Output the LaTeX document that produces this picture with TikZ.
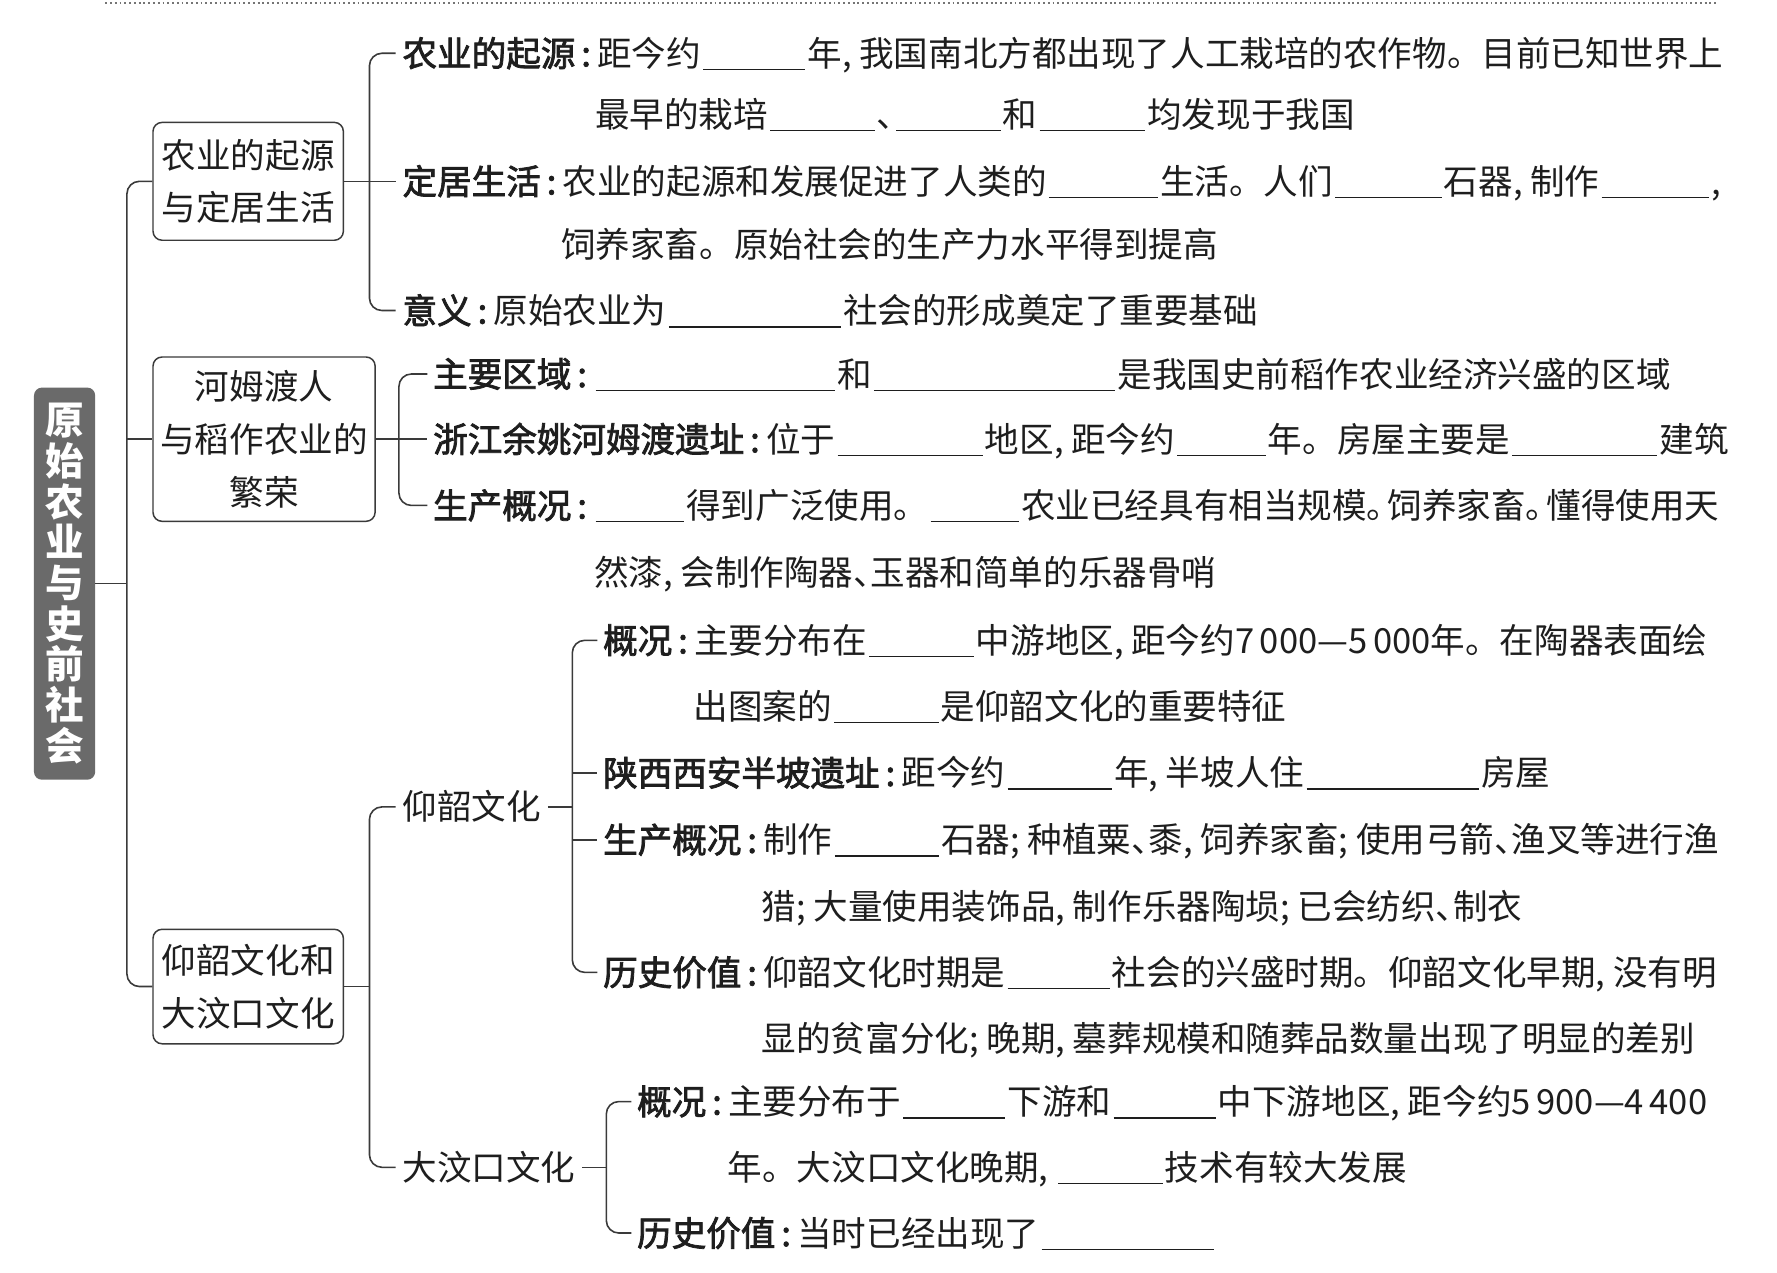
\documentclass[tikz,border=0pt]{standalone}
\usepackage{fontspec}
\setmainfont{Noto Sans CJK SC}
\newfontfamily\labfont{Noto Sans CJK SC}[FakeBold=2.2]
\definecolor{ln}{HTML}{3A3A3A}
\definecolor{tx}{HTML}{1E1E1E}
\definecolor{ttlc}{HTML}{6A6A6A}
\newcommand{\hc}{\makebox[0.5em][l]{,}}
\newcommand{\hsc}{\makebox[0.5em][l]{;}}
\newcommand{\dn}{\makebox[0.5em][l]{、}}
\newcommand{\jh}{\makebox[0.6em][l]{。}}
\newcommand{\blank}[1]{\hspace{2pt}\rule[-3.5pt]{#1pt}{1.3pt}\hspace{2pt}}
\newcommand{\cln}{\makebox[19pt][c]{:}}
\newcommand{\nsp}{\hspace{5pt}}
\begin{document}
\begin{tikzpicture}[x=1pt,y=-1pt,
  conn/.style={draw=ln, line width=1.4pt, rounded corners=11pt},
  box/.style={draw=ln, line width=1.3pt, rounded corners=8pt, align=center, inner sep=0pt, text=tx, font=\fontsize{30.5}{46.5}\selectfont},
  ttlbox/.style={fill=ttlc, rounded corners=7pt, minimum width=54pt, minimum height=346pt, inner sep=0pt, text=white, align=center, font=\bfseries\fontsize{34}{35.9}\selectfont},
  lab/.style={anchor=west, inner sep=0pt, text height=26pt, text depth=3pt, text=tx, font=\labfont\fontsize{30.5}{36}\selectfont},
  txt/.style={anchor=base west, inner sep=0pt, text=tx, font=\fontsize{30.5}{36}\selectfont},
  cont/.style={anchor=west, inner sep=0pt, text height=26pt, text depth=3pt, text=tx, font=\fontsize{30.5}{36}\selectfont}
]
\useasboundingbox (0,0) rectangle (1568,1123);
\fill[white] (0,0) rectangle (1568,1123);
\draw[ln!70, line width=1.6pt, dash pattern=on 1.6pt off 2.6pt] (93,2.5) -- (1515,2.5);

% main nodes
\node[ttlbox] (ttl) at (57,515) {原\\始\\农\\业\\与\\史\\前\\社\\会};
\node[box, minimum width=168pt, minimum height=104pt] (b1) at (219,160) {农业的起源\\与定居生活};
\node[box, minimum width=196pt, minimum height=145pt] (b2) at (233,387.5) {河姆渡人\\与稻作农业的\\繁荣};
\node[box, minimum width=168pt, minimum height=101pt] (b3) at (219,870.5) {仰韶文化和\\大汶口文化};

% bracket 1
\node[lab] (la1) at (355,47) {农业的起源\cln};
\node[txt] (t1) at (la1.base east) {距今约\blank{90}年\hc 我国南北方都出现了人工栽培的农作物。目前已知世界上};
\node[cont] (t1b) at (525,101) {最早的栽培\blank{92}\dn\blank{92}和\blank{93}均发现于我国};
\node[lab] (la2) at (355,160) {定居生活\cln};
\node[txt] (t2) at (la2.base east) {农业的起源和发展促进了人类的\blank{96}生活。人们\blank{94}石器\hc 制作\blank{95}\hc};
\node[cont] (t2b) at (495,216) {饲养家畜。原始社会的生产力水平得到提高};
\node[lab] (la3) at (355,274) {意义\cln};
\node[txt] (t3) at (la3.base east) {原始农业为\blank{152}社会的形成奠定了重要基础};

% bracket 2
\node[lab] (la4) at (382,330) {主要区域\cln};
\node[txt] (t4) at (la4.base east) {\blank{211}和\blank{213}是我国史前稻作农业经济兴盛的区域};
\node[lab] (la5) at (382,387.5) {浙江余姚河姆渡遗址\cln};
\node[txt] (t5) at (la5.base east) {位于\blank{128}地区\hc 距今约\blank{78}年。房屋主要是\blank{128}建筑};
\node[lab] (la6) at (382,446) {生产概况\cln};
\node[txt] (t6) at (la6.base east) {\blank{78}得到广泛使用。\blank{78}农业已经具有相当规模\jh 饲养家畜\jh 懂得使用天};
\node[cont] (t6b) at (524,505) {然漆\hc 会制作陶器\dn 玉器和简单的乐器骨哨};

% yangshao
\node[cont] (ys) at (355,712) {仰韶文化};
\node[lab] (la7) at (532,565) {概况\cln};
\node[txt] (t7) at (la7.base east) {主要分布在\blank{92}中游地区\hc 距今约7\nsp000—5\nsp000年。在陶器表面绘};
\node[cont] (t7b) at (612,623) {出图案的\blank{92}是仰韶文化的重要特征};
\node[lab] (la8) at (532,682) {陕西西安半坡遗址\cln};
\node[txt] (t8) at (la8.base east) {距今约\blank{92}年\hc 半坡人住\blank{152}房屋};
\node[lab] (la9) at (532,741) {生产概况\cln};
\node[txt] (t9) at (la9.base east) {制作\blank{92}石器\hsc 种植粟\dn 黍\hc 饲养家畜\hsc 使用弓箭\dn 渔叉等进行渔};
\node[cont] (t9b) at (672,800) {猎\hsc 大量使用装饰品\hc 制作乐器陶埙\hsc 已会纺织\dn 制衣};
\node[lab] (la10) at (532,858) {历史价值\cln};
\node[txt] (t10) at (la10.base east) {仰韶文化时期是\blank{90}社会的兴盛时期。仰韶文化早期\hc 没有明};
\node[cont] (t10b) at (672,916) {显的贫富分化\hsc 晚期\hc 墓葬规模和随葬品数量出现了明显的差别};

% dawenkou
\node[cont] (dw) at (355,1030) {大汶口文化};
\node[lab] (la11) at (562,972) {概况\cln};
\node[txt] (t11) at (la11.base east) {主要分布于\blank{90}下游和\blank{90}中下游地区\hc 距今约5\nsp900—4\nsp400};
\node[cont] (t11b) at (642,1030) {年。大汶口文化晚期\hc\blank{92}技术有较大发展};
\node[lab] (la12) at (562,1088) {历史价值\cln};
\node[txt] (t12) at (la12.base east) {当时已经出现了\blank{152}};

% connector coordinates
\coordinate (k0) at (112,515);
\coordinate (k1) at (326,160);
\coordinate (k2) at (352,387.5);
\coordinate (k3) at (326,870.5);
\coordinate (k4) at (505,712);
\coordinate (k5) at (535,1030);

% trunk
\draw[conn] (ttl.east) -- (k0);
\draw[conn] (b1.west) -| (k0) |- (b3.west);
\draw[conn] (k0 |- b2.west) -- (b2.west);

% bracket 1
\draw[conn] (b1.east) -- (k1);
\draw[conn] ([xshift=-6pt]la1.west) -| (k1) |- ([xshift=-6pt]la3.west);
\draw[conn] (k1) -- ([xshift=-6pt]la2.west);

% bracket 2
\draw[conn] (b2.east) -- ([xshift=-5pt]la5.west);
\draw[conn] ([xshift=-5pt]la4.west) -| (k2) |- ([xshift=-5pt]la6.west);

% bracket 3
\draw[conn] (b3.east) -- (k3);
\draw[conn] ([xshift=-6pt]ys.west) -| (k3) |- ([xshift=-6pt]dw.west);

% bracket 4
\draw[conn] ([xshift=6pt]ys.east) -- (k4);
\draw[conn] ([xshift=-5pt]la7.west) -| (k4) |- ([xshift=-5pt]la10.west);
\draw[conn] (k4 |- la8.west) -- ([xshift=-5pt]la8.west);
\draw[conn] (k4 |- la9.west) -- ([xshift=-5pt]la9.west);

% bracket 5
\draw[conn] ([xshift=6pt]dw.east) -- (k5);
\draw[conn] ([xshift=-5pt]la11.west) -| (k5) |- ([xshift=-5pt]la12.west);
\end{tikzpicture}
\end{document}
